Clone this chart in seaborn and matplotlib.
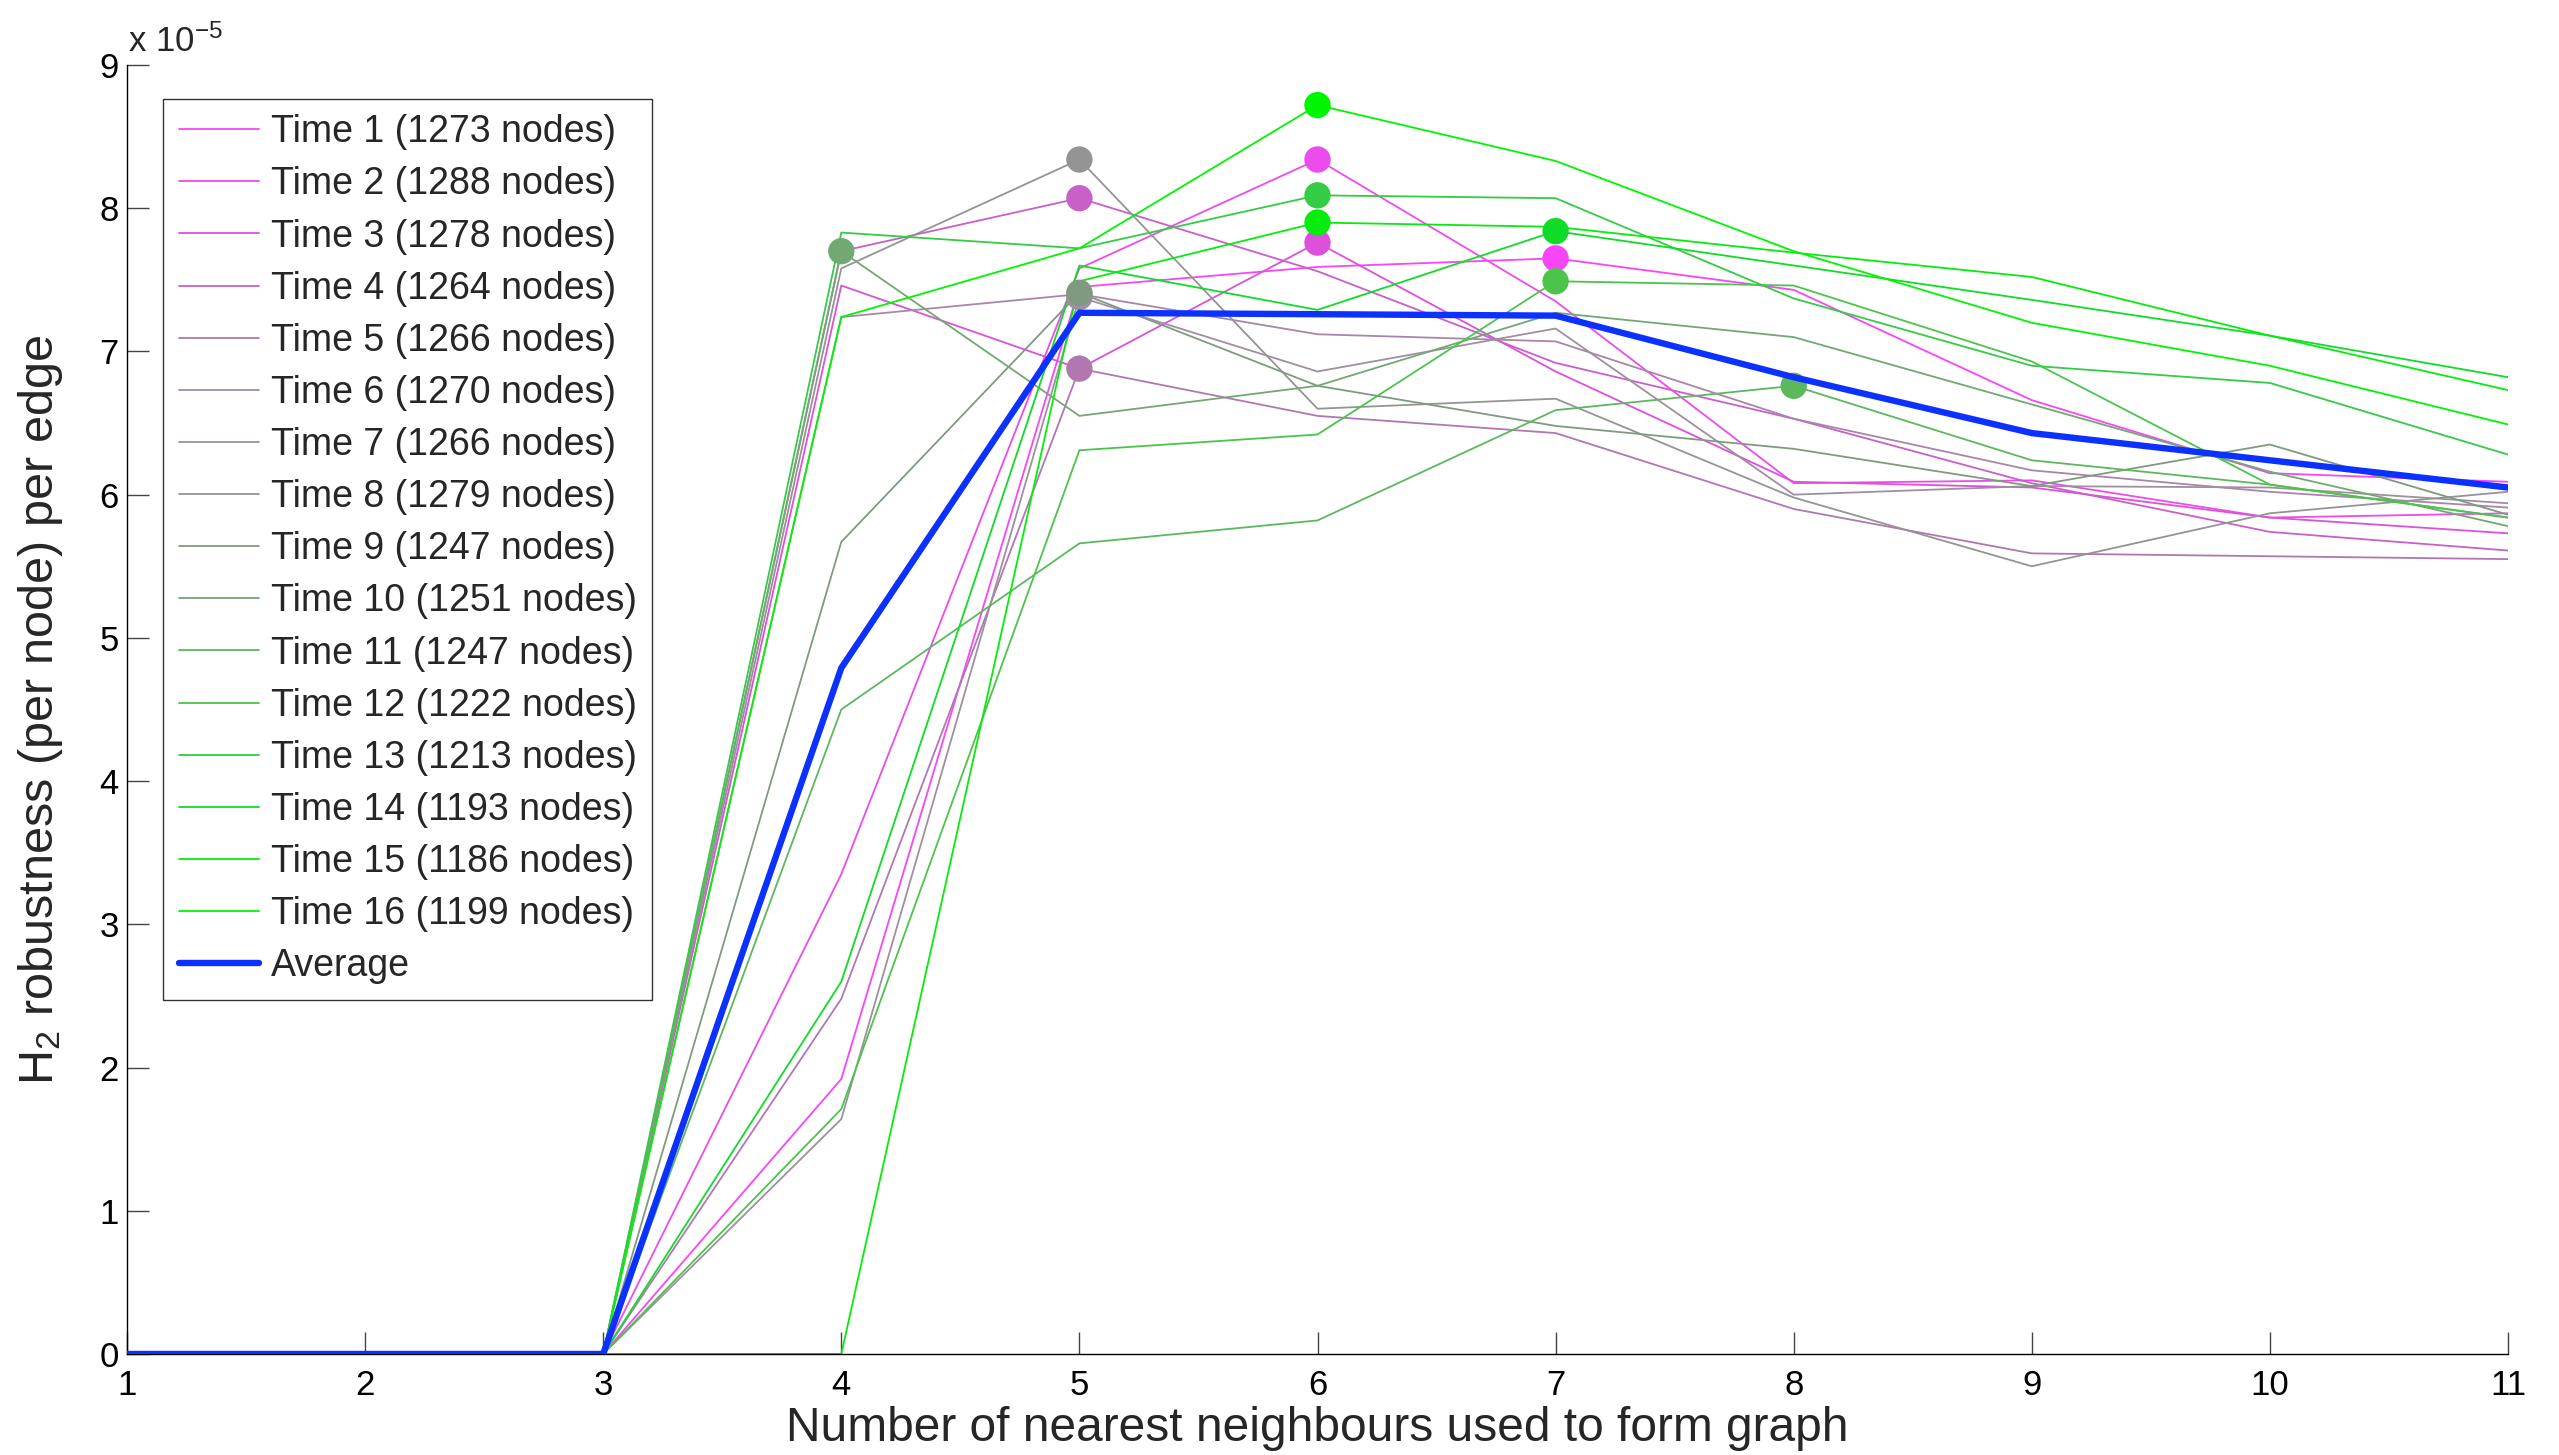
import numpy as np
import pandas as pd
import seaborn as sns
import matplotlib.pyplot as plt
from matplotlib.lines import Line2D

# number of nearest neighbours (x axis)
neighbours = list(range(1, 12))
node_counts = [1273, 1288, 1278, 1264, 1266, 1270, 1266, 1279,
               1247, 1251, 1247, 1222, 1213, 1193, 1186, 1199]

# H2 robustness per edge, in units of 1e-5
time01 = [0, 0, 0, 1.92, 7.45, 7.59, 7.65, 7.43, 6.66, 6.15, 6.09]
time02 = [0, 0, 0, 3.35, 7.58, 8.34, 7.35, 6.08, 6.10, 5.84, 5.87]
time03 = [0, 0, 0, 7.46, 6.88, 7.76, 6.86, 6.09, 6.05, 5.84, 5.73]
time04 = [0, 0, 0, 7.70, 8.07, 7.56, 6.92, 6.53, 6.08, 5.74, 5.61]
time05 = [0, 0, 0, 2.48, 6.88, 6.55, 6.43, 5.90, 5.59, 5.57, 5.55]
time06 = [0, 0, 0, 7.24, 7.40, 7.12, 7.07, 6.53, 6.17, 6.02, 5.91]
time07 = [0, 0, 0, 1.64, 7.38, 6.86, 7.16, 6.00, 6.06, 6.05, 5.94]
time08 = [0, 0, 0, 7.58, 8.34, 6.60, 6.67, 5.98, 5.50, 5.87, 6.02]
time09 = [0, 0, 0, 5.67, 7.41, 6.76, 6.48, 6.32, 6.06, 6.35, 5.86]
time10 = [0, 0, 0, 7.70, 6.55, 6.76, 7.27, 7.10, 6.63, 6.16, 5.78]
time11 = [0, 0, 0, 4.50, 5.66, 5.82, 6.59, 6.76, 6.24, 6.07, 5.84]
time12 = [0, 0, 0, 1.71, 6.31, 6.42, 7.49, 7.46, 6.93, 6.07, 5.84]
time13 = [0, 0, 0, 7.83, 7.72, 8.09, 8.07, 7.37, 6.90, 6.78, 6.28]
time14 = [0, 0, 0, 2.60, 7.60, 7.29, 7.84, 7.60, 7.36, 7.11, 6.82]
time15 = [0, 0, 0, 0.00, 7.49, 7.90, 7.87, 7.69, 7.52, 7.11, 6.73]
time16 = [0, 0, 0, 7.24, 7.72, 8.72, 8.33, 7.70, 7.20, 6.90, 6.49]
average = [0, 0, 0, 4.79, 7.27, 7.26, 7.25, 6.82, 6.43, 6.24, 6.05]

colours = ['#f945f9', '#eb4ceb', '#dc50dc', '#c95fc9', '#b077b0', '#a886a8',
           '#9f8f9f', '#949494', '#809a80', '#72a872', '#5cb85c', '#4cc44c',
           '#33cc44', '#10dc28', '#06ec0c', '#00f500']
avg_colour = '#0b31ff'

sns.set_theme(style='ticks')
plt.rcParams['font.family'] = ['Liberation Sans', 'DejaVu Sans']
plt.rcParams['mathtext.fontset'] = 'custom'
plt.rcParams['mathtext.rm'] = 'Liberation Sans'
plt.rcParams['mathtext.it'] = 'Liberation Sans:italic'
plt.rcParams['mathtext.default'] = 'regular'

series = [time01, time02, time03, time04, time05, time06, time07, time08,
          time09, time10, time11, time12, time13, time14, time15, time16]
labels = [f'Time {i + 1} ({n} nodes)' for i, n in enumerate(node_counts)]
df = pd.DataFrame({
    'k': neighbours * len(series),
    'h2': [v for s in series for v in s],
    'time': np.repeat(labels, len(neighbours)),
})
palette = dict(zip(labels, colours))

fig = plt.figure(figsize=(25.59, 14.55), dpi=100)
ax = fig.add_axes([0.04963, 0.06942, 0.93044, 0.88591])

sns.lineplot(data=df, x='k', y='h2', hue='time', hue_order=labels,
             palette=palette, estimator=None, linewidth=1.3, legend=False, ax=ax)

# marker at the maximum of each time series
peaks = df.loc[df.groupby('time', sort=False)['h2'].idxmax()]
sns.scatterplot(data=peaks, x='k', y='h2', hue='time', hue_order=labels,
                palette=palette, s=360, edgecolor='none', legend=False,
                ax=ax, zorder=3)

sns.lineplot(x=neighbours, y=average, color=avg_colour, linewidth=4.6,
             ax=ax, zorder=4)

ax.set_xlim(1, 11)
ax.set_ylim(0, 9)
ax.set_xticks(neighbours)
ax.set_yticks(range(10))
sns.despine(ax=ax)
for side in ['left', 'bottom']:
    ax.spines[side].set_color('black')
    ax.spines[side].set_linewidth(1.0)
ax.tick_params(direction='in', length=16, width=1, color='#444444',
               labelsize=25, labelcolor='black')
ax.tick_params(axis='x', pad=11)
ax.tick_params(axis='y', pad=6)

ax.set_xlabel('Number of nearest neighbours used to form graph', fontsize=34.5)
ax.set_ylabel('H$_2$ robustness (per node) per edge', fontsize=35)
ax.xaxis.set_label_coords(0.5, -0.040)
ax.yaxis.set_label_coords(-0.026, 0.5)

ax.text(0.0004, 1.010, 'x 10$^{-5}$', transform=ax.transAxes, fontsize=25,
        ha='left', va='baseline')

handles = [Line2D([], [], color=c, linewidth=1.3) for c in colours]
handles.append(Line2D([], [], color=avg_colour, linewidth=4.6))
leg = ax.legend(handles, labels + ['Average'], loc='upper left',
                bbox_to_anchor=(0.0151, 0.974), borderaxespad=0, fontsize=27,
                frameon=True, fancybox=False, edgecolor='black',
                handlelength=2.15, handletextpad=0.3, labelspacing=0.43,
                borderpad=0.42)
leg.get_frame().set_linewidth(1.0)

fig.savefig('out.png', dpi=100)
